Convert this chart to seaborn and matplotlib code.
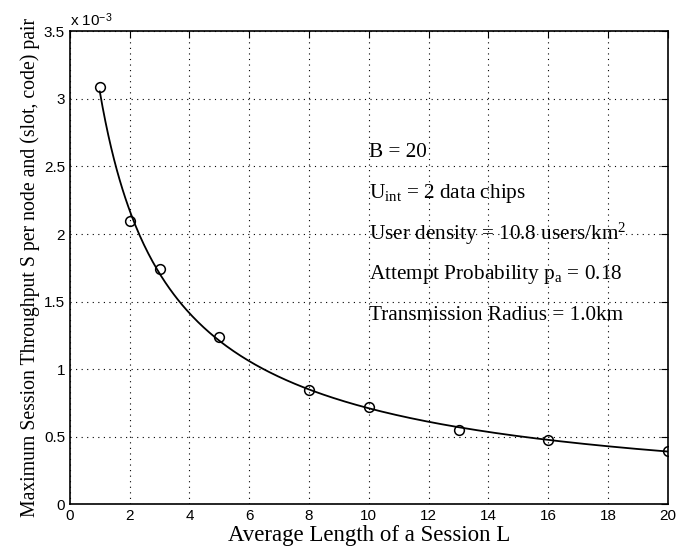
import numpy as np
import pandas as pd
import matplotlib
matplotlib.use("Agg")
import matplotlib.pyplot as plt
import matplotlib.ticker as mticker
import seaborn as sns

# ---- data ----
session_length = [1, 2, 3, 5, 8, 10, 13, 16, 20]
throughput = [3.085e-3, 2.094e-3, 1.745e-3, 1.237e-3, 0.848e-3,
              0.720e-3, 0.548e-3, 0.479e-3, 0.398e-3]
x_ticks = [0, 2, 4, 6, 8, 10, 12, 14, 16, 18, 20]
y_ticks = [0, 0.5e-3, 1.0e-3, 1.5e-3, 2.0e-3, 2.5e-3, 3.0e-3, 3.5e-3]
notes = [
    "B = 20",
    r"U$_{\mathrm{int}}$ = 2 data chips",
    r"User density = 10.8 users/km$^{2}$",
    r"Attempt Probability p$_{\mathrm{a}}$ = 0.18",
    "Transmission Radius = 1.0km",
]
note_y = [2.60e-3, 2.30e-3, 2.00e-3, 1.70e-3, 1.40e-3]

# smooth fitted curve through the measured points (log-log cubic fit)
df = pd.DataFrame({"L": session_length, "S": throughput})
coef = np.polyfit(np.log(df["L"]), np.log(df["S"]), 3)
L_fine = np.linspace(min(session_length), max(session_length), 400)
fit = pd.DataFrame({"L": L_fine, "S": np.exp(np.polyval(coef, np.log(L_fine)))})

# ---- style ----
sns.set_style("white")
plt.rcParams["font.family"] = ["Liberation Sans", "DejaVu Sans"]
plt.rcParams["mathtext.fontset"] = "custom"
plt.rcParams["mathtext.rm"] = "Liberation Serif"
plt.rcParams["mathtext.it"] = "Liberation Serif:italic"
plt.rcParams["mathtext.sf"] = "Liberation Sans"
for k in ["text.color", "axes.labelcolor", "xtick.color", "ytick.color",
          "axes.edgecolor"]:
    plt.rcParams[k] = "black"

fig = plt.figure(figsize=(6.85, 5.48), dpi=100)
ax = fig.add_axes([0.102, 0.0794, 0.873, 0.8636])

sns.lineplot(data=fit, x="L", y="S", ax=ax, color="black", lw=1.3)
sns.lineplot(data=df, x="L", y="S", ax=ax, color="black", marker="o",
             linestyle="none", markersize=7, mfc="none", mec="black", mew=1.1)

ax.set_xlim(0, 20)
ax.set_ylim(0, 3.5e-3)
ax.set_xticks(x_ticks)
ax.set_yticks(y_ticks)
ax.yaxis.set_major_formatter(mticker.FuncFormatter(lambda v, p: f"{v*1e3:g}"))
ax.tick_params(direction="in", top=True, right=True, length=5, width=0.8,
               labelsize=11, colors="black")
ax.grid(True, color="black", linestyle=(0, (1, 4)), lw=0.8)
for s in ax.spines.values():
    s.set_color("black")
    s.set_linewidth(1.2)

ax.set_xlabel("Average Length of a Session L", family="Liberation Serif",
              fontsize=16.5, labelpad=1)
ax.set_ylabel("Maximum Session Throughput S per node and (slot, code) pair",
              family="Liberation Serif", fontsize=14.2, labelpad=3)

for t, yv in zip(notes, note_y):
    ax.text(10.0, yv, t, family="Liberation Serif", fontsize=15.3, va="center",
            ha="left")

ax.text(0.0, 1.005, r"x 10$^{\mathsf{-3}}$", transform=ax.transAxes,
        fontsize=11, va="bottom", ha="left")

fig.savefig("out.png", dpi=100)
